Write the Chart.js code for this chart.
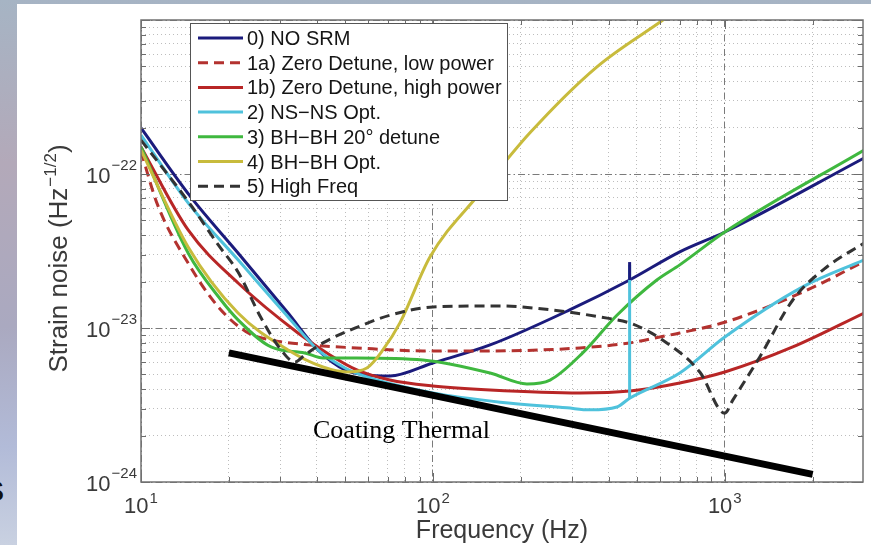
<!DOCTYPE html>
<html>
<head>
<meta charset="utf-8">
<script src="https://cdn.jsdelivr.net/npm/chart.js@4"></script>
<style>
  html, body { margin: 0; padding: 0; }
  body {
    width: 871px; height: 545px; overflow: hidden; position: relative;
    background: linear-gradient(180deg, #a6b4c4 0%, #b3a9b9 30%, #aaa9c0 60%, #b2bbd8 82%, #c9d1e1 100%);
  }
  .panel { position: absolute; left: 17px; top: 4px; right: 0; bottom: 0; background: #fff; }
  .slide-s { position: absolute; left: -16px; top: 474px; font: bold 30px "Liberation Sans", Arial, sans-serif; color: #111; }
  canvas { position: absolute; left: 0; top: 0; }
</style>
</head>
<body>
<div class="panel"></div>
<div class="slide-s">S</div>
<canvas id="chart" width="871" height="545"></canvas>
<script>
// strain noise curves, frequency in Hz, noise in 1/sqrt(Hz)
const freqNoSrm = [10, 14.8, 21.5, 31.9, 40.4, 50, 59.4, 71.2, 100, 157, 294, 472, 701, 1000, 3000];
const noiseNoSrm = [1.99e-22, 7.1e-23, 3.07e-23, 1.25e-23, 7.2e-24, 5.34e-24, 4.95e-24, 4.88e-24, 5.93e-24, 7.76e-24, 1.31e-23, 2.05e-23, 3.12e-23, 4.2e-23, 1.27e-22];

const freqLowPower = [10, 11.4, 14.5, 18.4, 23.3, 27.9, 37.9, 54.9, 92.4, 157, 319, 473, 599, 701, 1000, 1849, 3000];
const noiseLowPower = [1.4e-22, 6.3e-23, 2.64e-23, 1.37e-23, 9.28e-24, 8.36e-24, 7.76e-24, 7.42e-24, 7.1e-24, 7.1e-24, 7.42e-24, 8.0e-24, 8.74e-24, 9.28e-24, 1.09e-23, 1.71e-23, 2.7e-23];

const freqHighPower = [10, 14.5, 21.5, 34.5, 44.4, 54.9, 71.2, 100, 157, 319, 473, 701, 1000, 1710, 3000];
const noiseHighPower = [1.5e-22, 4.33e-23, 1.96e-23, 9.28e-24, 6.68e-24, 5.34e-24, 4.59e-24, 4.2e-24, 3.96e-24, 3.79e-24, 3.9e-24, 4.4e-24, 5.18e-24, 7.53e-24, 1.25e-23];

const freqNsNs = [10, 14.5, 21.5, 31.9, 40.4, 50, 59.4, 100, 170, 288, 345, 427, 472, 701, 1000, 1849, 3000];
const noiseNsNs = [1.79e-22, 6.49e-23, 2.77e-23, 1.18e-23, 7.2e-24, 5.5e-24, 4.81e-24, 3.79e-24, 3.3e-24, 3.03e-24, 2.94e-24, 3.07e-24, 3.5e-24, 5.1e-24, 8.74e-24, 1.85e-23, 2.77e-23];

const freqBhBh20 = [10, 14.5, 18.8, 21.5, 27.9, 36.4, 42.0, 54.9, 92.4, 157, 210, 252, 326, 427, 585, 701, 1000, 3000];
const noiseBhBh20 = [1.5e-22, 3.07e-23, 1.52e-23, 1.13e-23, 7.53e-24, 6.89e-24, 6.39e-24, 6.39e-24, 6.2e-24, 5.1e-24, 4.33e-24, 4.59e-24, 6.89e-24, 1.21e-23, 2.05e-23, 2.57e-23, 4.2e-23, 1.43e-22];

const freqBhBhOpt = [10, 14.5, 21.5, 31.9, 42.0, 50.8, 59.4, 67.4, 77.1, 97.7, 145, 215, 364, 614, 701];
const noiseBhBhOpt = [1.43e-22, 3.36e-23, 1.25e-23, 7.2e-24, 5.58e-24, 5.18e-24, 5.5e-24, 7.2e-24, 1.08e-23, 2.89e-23, 7.53e-23, 1.85e-22, 4.95e-22, 1e-21, 1.2e-21];

const freqHighFreq = [10, 14.8, 18.4, 21.5, 25.8, 30.2, 33.7, 36.4, 42.0, 54.9, 71.2, 100, 170, 220, 373, 484, 633, 821, 1000, 1065, 1318, 1710, 2235, 3000];
const noiseHighFreq = [1.66e-22, 6.3e-23, 3.46e-23, 2.31e-23, 1.16e-23, 7.2e-24, 6.01e-24, 6.68e-24, 8.0e-24, 1.01e-23, 1.21e-23, 1.37e-23, 1.39e-23, 1.35e-23, 1.18e-23, 1.06e-23, 8.0e-24, 5.18e-24, 2.8e-24, 3.4e-24, 6.49e-24, 1.52e-23, 2.49e-23, 3.56e-23];

// narrow resonance spike near 472 Hz (bottom and top of the vertical stroke)
const freqSpike = [472, 472];
const noiseSpikeNoSrm = [2.05e-23, 2.68e-23];
const noiseSpikeNsNs = [3.5e-24, 2.57e-23];

const freqCoating = [20, 2000];
const noiseCoating = [6.9e-24, 1.12e-24];

const seriesLabels = ['0) NO SRM', '1a) Zero Detune, low power', '1b) Zero Detune, high power',
  '2) NS\u2212NS Opt.', '3) BH\u2212BH 20\u00b0 detune', '4) BH\u2212BH Opt.', '5) High Freq'];
const seriesColors = ['#1b1b7c', '#b3322f', '#b82626', '#4fc2dc', '#3fb83f', '#c8bb3c', '#333333'];

// axis decades and labelled exponents
const xMin = 10, xMax = 2975;
const yMin = 1e-24, yMax = 1e-21;
const xDecades = [1, 2, 3];
const yDecades = [-24, -23, -22, -21];
const xLabelExps = [1, 2, 3];
const yLabelExps = [-24, -23, -22];

const SANS = '"Liberation Sans", Arial, Helvetica, sans-serif';

const pts = (xs, ys) => xs.map((x, i) => ({ x, y: ys[i] }));
const isDecade = (v) => Math.abs(Math.log10(v) - Math.round(Math.log10(v))) < 1e-6;

function gridValues(decades, lo, hi) {
  const out = [];
  decades.forEach((e) => {
    for (let m = 1; m <= 9; m++) {
      const v = m * Math.pow(10, e);
      if (v >= lo * 0.999 && v <= hi * 1.001) out.push(v);
    }
  });
  return out;
}

function powLabel(ctx, exp, x, base, raise, align) {
  const sup = String(exp).replace('-', '\u2212');
  ctx.font = '22px ' + SANS;
  const wb = ctx.measureText('10').width;
  ctx.font = '15px ' + SANS;
  const ws = ctx.measureText(sup).width;
  const total = wb + 1 + ws;
  const left = align === 'center' ? x - total / 2 : x - total;
  ctx.textAlign = 'left';
  ctx.font = '22px ' + SANS;
  ctx.fillText('10', left, base);
  ctx.font = '15px ' + SANS;
  ctx.fillText(sup, left + wb + 1, base - raise);
}

const matlabAxes = {
  id: 'matlabAxes',
  afterDatasetsDraw(chart) {
    const { ctx, chartArea: a, scales: { x, y } } = chart;
    ctx.save();
    ctx.strokeStyle = '#6c6c6c';
    ctx.lineWidth = 1;
    ctx.setLineDash([]);
    ctx.beginPath();
    x.ticks.forEach((t) => {
      const px = Math.round(x.getPixelForValue(t.value)) + 0.5;
      const len = isDecade(t.value) ? 9 : 5;
      ctx.moveTo(px, a.bottom); ctx.lineTo(px, a.bottom - len);
      ctx.moveTo(px, a.top); ctx.lineTo(px, a.top + len);
    });
    y.ticks.forEach((t) => {
      const py = Math.round(y.getPixelForValue(t.value)) + 0.5;
      const len = isDecade(t.value) ? 9 : 5;
      ctx.moveTo(a.left, py); ctx.lineTo(a.left + len, py);
      ctx.moveTo(a.right, py); ctx.lineTo(a.right - len, py);
    });
    ctx.stroke();
    ctx.strokeStyle = '#727272';
    ctx.lineWidth = 1.5;
    ctx.strokeRect(a.left, a.top, a.right - a.left, a.bottom - a.top);

    // legend box
    const lx = 190, ly = 23, lw = 317, lh = 177;
    ctx.fillStyle = '#fff';
    ctx.fillRect(lx, ly, lw, lh);
    ctx.strokeStyle = '#555';
    ctx.lineWidth = 1;
    ctx.strokeRect(lx + 0.5, ly + 0.5, lw, lh);
    ctx.font = '20px ' + SANS;
    ctx.textAlign = 'left';
    ctx.textBaseline = 'alphabetic';
    chart.data.datasets.slice(0, seriesLabels.length).forEach((ds, i) => {
      const ry = 38 + i * 24.7;
      ctx.strokeStyle = ds.borderColor;
      ctx.lineWidth = 3;
      ctx.setLineDash(ds.borderDash || []);
      ctx.beginPath();
      ctx.moveTo(198, ry); ctx.lineTo(243, ry);
      ctx.stroke();
      ctx.setLineDash([]);
      ctx.fillStyle = '#151515';
      ctx.fillText(ds.label, 247, ry + 7);
    });
    ctx.restore();
  },
  afterDraw(chart) {
    const { ctx, chartArea: a, scales: { x, y } } = chart;
    ctx.save();
    ctx.fillStyle = '#3a3a3a';
    ctx.textBaseline = 'alphabetic';
    xLabelExps.forEach((e) => powLabel(ctx, e, x.getPixelForValue(Math.pow(10, e)), 513, 10, 'center'));
    yLabelExps.forEach((e) => {
      const py = y.getPixelForValue(Math.pow(10, e));
      powLabel(ctx, e, a.left - 4, py + 9, 13, 'right');
    });

    ctx.font = '25px ' + SANS;
    ctx.textAlign = 'center';
    ctx.fillText('Frequency (Hz)', (a.left + a.right) / 2, 538);

    // rotated y title with superscript
    ctx.translate(67, 259);
    ctx.rotate(-Math.PI / 2);
    ctx.textAlign = 'left';
    const p1 = 'Strain noise (Hz', p2 = '\u22121/2', p3 = ')';
    ctx.font = '26px ' + SANS;
    const w1 = ctx.measureText(p1).width, w3 = ctx.measureText(p3).width;
    ctx.font = '17px ' + SANS;
    const w2 = ctx.measureText(p2).width;
    const start = -(w1 + w2 + w3) / 2;
    ctx.font = '26px ' + SANS;
    ctx.fillText(p1, start, 0);
    ctx.fillText(p3, start + w1 + w2 + 1, 0);
    ctx.font = '17px ' + SANS;
    ctx.fillText(p2, start + w1 + 1, -11);
    ctx.restore();

    ctx.save();
    ctx.fillStyle = '#000';
    ctx.font = '26px "Liberation Serif", "Times New Roman", serif';
    ctx.textAlign = 'left';
    ctx.fillText('Coating Thermal', 313, 438);
    ctx.restore();
  }
};

const curveData = [
  [freqNoSrm, noiseNoSrm],
  [freqLowPower, noiseLowPower],
  [freqHighPower, noiseHighPower],
  [freqNsNs, noiseNsNs],
  [freqBhBh20, noiseBhBh20],
  [freqBhBhOpt, noiseBhBhOpt],
  [freqHighFreq, noiseHighFreq]
];
const dashed = [false, true, false, false, false, false, true];

const datasets = curveData.map(([fx, ny], i) => ({
  label: seriesLabels[i],
  data: pts(fx, ny),
  borderColor: seriesColors[i],
  borderWidth: 3,
  borderDash: dashed[i] ? [10, 6] : [],
  pointRadius: 0,
  cubicInterpolationMode: 'monotone',
  order: seriesLabels.length - i
}));
datasets.push({
  label: 'spike 2',
  data: pts(freqSpike, noiseSpikeNsNs),
  borderColor: seriesColors[3],
  borderWidth: 3,
  pointRadius: 0,
  tension: 0,
  order: 0
});
datasets.push({
  label: 'spike 0',
  data: pts(freqSpike, noiseSpikeNoSrm),
  borderColor: seriesColors[0],
  borderWidth: 3,
  pointRadius: 0,
  tension: 0,
  order: -0.5
});
datasets.push({
  label: 'Coating Thermal',
  data: pts(freqCoating, noiseCoating),
  borderColor: '#000',
  borderWidth: 7,
  borderCapStyle: 'butt',
  pointRadius: 0,
  tension: 0,
  order: -1
});

const gridColor = (c) => (c.tick && isDecade(c.tick.value) ? '#7a7a7a' : '#bdbdbd');
const gridDash = (c) => (c.tick && isDecade(c.tick.value) ? [7, 3, 1.5, 3] : [1, 3]);

new Chart(document.getElementById('chart'), {
  type: 'line',
  data: { datasets },
  options: {
    responsive: false,
    animation: false,
    devicePixelRatio: 1,
    layout: { padding: { left: 141, top: 20, right: 8, bottom: 63 } },
    plugins: { legend: { display: false }, tooltip: { enabled: false } },
    scales: {
      x: {
        type: 'logarithmic',
        min: xMin,
        max: xMax,
        afterBuildTicks: (s) => { s.ticks = gridValues(xDecades, xMin, xMax).map((v) => ({ value: v })); },
        ticks: { display: false },
        grid: { color: gridColor, lineWidth: 1, drawTicks: false },
        border: { display: false, dash: gridDash }
      },
      y: {
        type: 'logarithmic',
        min: yMin,
        max: yMax,
        afterBuildTicks: (s) => { s.ticks = gridValues(yDecades, yMin, yMax).map((v) => ({ value: v })); },
        ticks: { display: false },
        grid: { color: gridColor, lineWidth: 1, drawTicks: false },
        border: { display: false, dash: gridDash }
      }
    }
  },
  plugins: [matlabAxes]
});
</script>
</body>
</html>
